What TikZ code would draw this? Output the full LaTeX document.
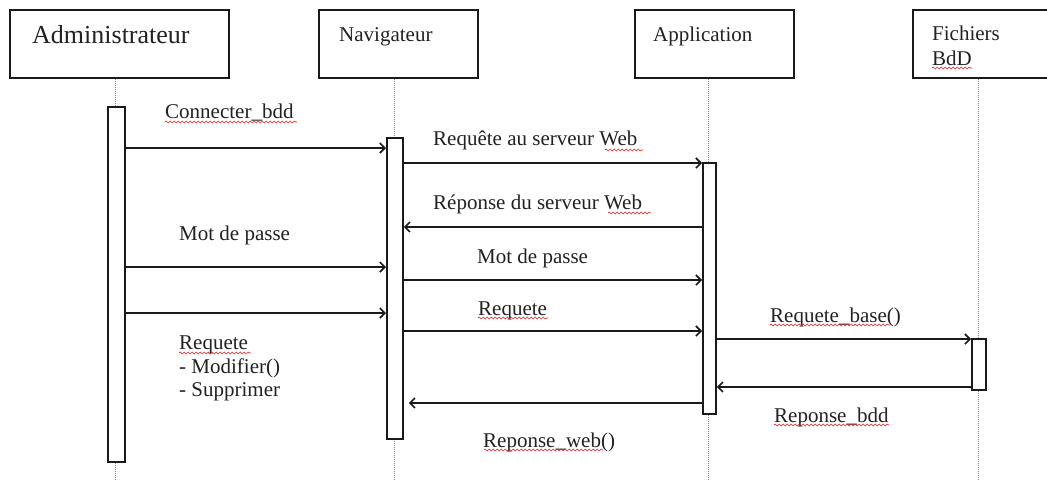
\documentclass[tikz,border=0pt]{standalone}
\usepackage{fontspec}
\setmainfont{Liberation Serif}
\usetikzlibrary{arrows.meta,decorations.pathmorphing}
\definecolor{ink}{HTML}{1A1A1A}
\definecolor{txt}{HTML}{222222}
\definecolor{lifegray}{HTML}{8A8A8A}
\definecolor{squigred}{HTML}{E02020}
\begin{document}
\begin{tikzpicture}[x=1pt,y=-1pt,
  objbox/.style={draw=ink,line width=2pt,minimum width=#1,minimum height=68pt,inner sep=0pt,anchor=north west},
  actbar/.style 2 args={draw=ink,fill=white,line width=1.8pt,minimum width=#1,minimum height=#2,inner sep=0pt,anchor=north west},
  lifeline/.style={draw=lifegray,line width=0.8pt,dash pattern=on 1pt off 1pt},
  msg/.style={draw=ink,line width=1.8pt,-{Straight Barb[length=5pt,width=10pt,line width=1.6pt]}},
  lbl/.style={anchor=base west,inner sep=0pt,text=txt,font=\fontsize{21}{25}\selectfont},
  squig/.style={draw=squigred,line width=0.6pt,decorate,decoration={snake,segment length=4pt,amplitude=1pt}}
]
\path[use as bounding box,fill=white] (0,0) rectangle (1047,480);
\clip (0,0) rectangle (1047,480);

% object boxes
\node[objbox=219pt] (admin) at (9,9) {};
\node[objbox=159pt] (nav) at (318,9) {};
\node[objbox=159pt] (app) at (634,9) {};
\node[objbox=160pt] (fich) at (912,9) {};

\node[lbl,font=\fontsize{26}{30}\selectfont] (tadmin) at (32,43) {Administrateur};
\node[lbl] (tnav) at (339,41) {Navigateur};
\node[lbl] (tapp) at (653,41) {Application};
\node[lbl] (tfich1) at (932,40) {Fichiers};
\node[lbl] (tfich2) at (932,65) {BdD};

% activation bar positions
\coordinate (abpos) at (107,106);
\coordinate (nbpos) at (386,137);
\coordinate (appbpos) at (702,162);
\coordinate (fbpos) at (971,338);

% lifelines
\draw[lifeline] (admin.south -| 115.5,0) -- (115.5,480);
\draw[lifeline] (nav.south -| 394,0) -- (394,480);
\draw[lifeline] (app.south -| 708,0) -- (708,480);
\draw[lifeline] (fich.south -| 978,0) -- (978,480);

\node[actbar={17pt}{355pt}] (ab) at (abpos) {};
\node[actbar={16pt}{301pt}] (nb) at (nbpos) {};
\node[actbar={13pt}{251pt}] (appb) at (appbpos) {};
\node[actbar={14pt}{51pt}] (fb) at (fbpos) {};

% messages
\draw[msg] (ab.east |- 0,148) -- (nb.west |- 0,148);
\draw[msg] (nb.east |- 0,163) -- (appb.west |- 0,163);
\draw[msg] (appb.west |- 0,227) -- (nb.east |- 0,227);
\draw[msg] (ab.east |- 0,267) -- (nb.west |- 0,267);
\draw[msg] (nb.east |- 0,280) -- (appb.west |- 0,280);
\draw[msg] (ab.east |- 0,313) -- (nb.west |- 0,313);
\draw[msg] (nb.east |- 0,331) -- (appb.west |- 0,331);
\draw[msg] (appb.east |- 0,339) -- (fb.west |- 0,339);
\draw[msg] (fb.west |- 0,387) -- (appb.east |- 0,387);
\draw[msg] (appb.west |- 0,403) -- ([xshift=5pt]nb.east |- 0,403);

% labels
\node[lbl] (l1) at (165,118) {Connecter\_bdd};
\node[lbl] (l2) at (433,145) {Requête au serveur Web};
\node[lbl] (l3) at (433,209) {Réponse du serveur Web};
\node[lbl] (l4) at (179,240) {Mot de passe};
\node[lbl] (l5) at (477,263) {Mot de passe};
\node[lbl] (l6) at (478,315) {Requete};
\node[lbl] (l7) at (770,322) {Requete\_base()};
\node[lbl] (l8) at (774,422) {Reponse\_bdd};
\node[lbl] (l9) at (483,447) {Reponse\_web()};
\node[lbl,anchor=north west,align=left,font=\fontsize{21}{23.5}\selectfont] (l10) at (179,336) {Requete\\- Modifier()\\- Supprimer};

% spell-check squiggles
\draw[squig] (165,122) -- (297,122);
\draw[squig] (605,150) -- (643,150);
\draw[squig] (932,68) -- (972,68);
\draw[squig] (608,213) -- (651,213);
\draw[squig] (478,318) -- (548,318);
\draw[squig] (179,353) -- (251,353);
\draw[squig] (770,325) -- (890,325);
\draw[squig] (774,425) -- (889,425);
\draw[squig] (484,450) -- (603,450);
\end{tikzpicture}
\end{document}
